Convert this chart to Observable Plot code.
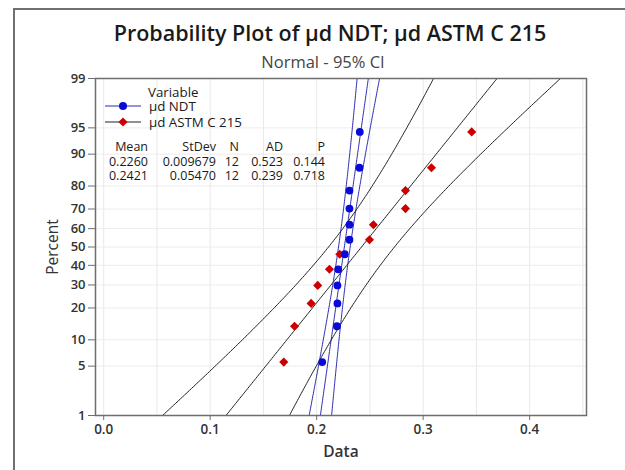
<!DOCTYPE html>
<html><head><meta charset="utf-8">
<script src="https://cdn.jsdelivr.net/npm/d3@7"></script>
<script src="https://cdn.jsdelivr.net/npm/@observablehq/plot@0.6"></script>
<style>
html,body{margin:0;padding:0;background:#fff;overflow:hidden;}
#wrap{position:relative;width:625px;height:470px;overflow:hidden;}
#border{position:absolute;left:13px;top:8px;width:700px;height:600px;border:2px solid #707070;box-sizing:border-box;pointer-events:none;}
#wrap svg{position:absolute;left:0;top:0;}
</style>
</head><body>
<div id="wrap"><div id="border"></div></div>
<script>
// ---- data ----
const tickPercents = [1, 5, 10, 20, 30, 40, 50, 60, 70, 80, 90, 95, 99];
const xTicks = [0.0, 0.1, 0.2, 0.3, 0.4];
const gridXValues = [0.0, 0.05, 0.1, 0.15, 0.2, 0.25, 0.3, 0.35, 0.4, 0.45];
const plotPercents = [5.6, 13.7, 21.8, 29.8, 37.9, 46.0, 54.0, 62.1, 70.2, 78.2, 86.3, 94.4];
const ndtValues = [0.2052, 0.2190, 0.2195, 0.2195, 0.2202, 0.2264, 0.2308, 0.2308, 0.2308, 0.2308, 0.2402, 0.2405];
const astmValues = [0.1691, 0.1792, 0.1948, 0.2010, 0.2120, 0.2217, 0.2496, 0.2533, 0.2834, 0.2834, 0.3078, 0.3456];
const seriesNames = ["µd NDT", "µd ASTM C 215"];
const means = [0.2260, 0.2421];
const stdevs = [0.009679, 0.05470];
const counts = [12, 12];
const adValues = [0.523, 0.239];
const pValues = [0.144, 0.718];
const meanLabels = ["0.2260", "0.2421"];
const stdevLabels = ["0.009679", "0.05470"];
const adLabels = ["0.523", "0.239"];
const pLabels = ["0.144", "0.718"];
const tableHeaders = ["Mean", "StDev", "N", "AD", "P"];

// ---- styles ----
const pointColors = ["#0a0ad8", "#cc0000"];
const lineColors = ["#2a2ab0", "#222222"];
const FONT = "'Open Sans', sans-serif";

// inverse normal CDF (Acklam)
function probit(p){
  const a=[-3.969683028665376e+01,2.209460984245205e+02,-2.759285104469687e+02,1.383577518672690e+02,-3.066479806614716e+01,2.506628277459239e+00];
  const b=[-5.447609879822406e+01,1.615858368580409e+02,-1.556989798598866e+02,6.680131188771972e+01,-1.328068155288572e+01];
  const c=[-7.784894002430293e-03,-3.223964580411365e-01,-2.400758277161838e+00,-2.549732539343734e+00,4.374664141464968e+00,2.938163982698783e+00];
  const d=[7.784695709041462e-03,3.224671290700398e-01,2.445134137142996e+00,3.754408661907416e+00];
  const pl=0.02425, ph=1-pl; let q,r;
  if(p<pl){q=Math.sqrt(-2*Math.log(p));return (((((c[0]*q+c[1])*q+c[2])*q+c[3])*q+c[4])*q+c[5])/((((d[0]*q+d[1])*q+d[2])*q+d[3])*q+1);}
  if(p<=ph){q=p-0.5;r=q*q;return (((((a[0]*r+a[1])*r+a[2])*r+a[3])*r+a[4])*r+a[5])*q/(((((b[0]*r+b[1])*r+b[2])*r+b[3])*r+b[4])*r+1);}
  q=Math.sqrt(-2*Math.log(1-p));return -(((((c[0]*q+c[1])*q+c[2])*q+c[3])*q+c[4])*q+c[5])/((((d[0]*q+d[1])*q+d[2])*q+d[3])*q+1);
}

const zTicks = tickPercents.map(p => probit(p / 100));
const zLo = probit(0.01), zHi = probit(0.99);

const points = [];
[ndtValues, astmValues].forEach((vals, s) => vals.forEach((v, i) =>
  points.push({series: seriesNames[s], s, x: v, z: probit(plotPercents[i] / 100)})));

// fitted normal line and 95% CI for percentiles from the stated Mean / StDev / N
const zq = 1.959964;
const zs = d3.range(0, 201).map(i => zLo + (zHi - zLo) * i / 200);
const curves = [];
seriesNames.forEach((name, s) => {
  const m = means[s], sd = stdevs[s], n = counts[s];
  for (const kind of ["lo", "fit", "hi"]) {
    for (const z of zs) {
      const fit = m + sd * z;
      const half = zq * sd * Math.sqrt(1 / n + z * z / (2 * n));
      const x = kind === "fit" ? fit : kind === "lo" ? fit - half : fit + half;
      curves.push({key: name + kind, s, x, z});
    }
  }
});

const W = 625, H = 470;
const svg = Plot.plot({
  width: W, height: H,
  marginLeft: 95, marginRight: 39, marginTop: 78, marginBottom: 55,
  style: {fontFamily: FONT, background: "transparent", overflow: "visible"},
  x: {domain: [-0.0077, 0.4534]},
  y: {domain: [zLo, zHi]},
  marks: [
    Plot.gridX(gridXValues, {stroke: "#e9e9e9", strokeOpacity: 1}),
    Plot.gridY(zTicks, {stroke: "#ececec", strokeOpacity: 1}),
    Plot.line(curves, {x: "x", y: "z", z: "key", stroke: d => lineColors[d.s], strokeWidth: 1, clip: true}),
    Plot.dot(points.filter(d => d.s === 1), {x: "x", y: "z", symbol: "diamond2", r: 4.1, fill: pointColors[1], stroke: "none"}),
    Plot.dot(points.filter(d => d.s === 0), {x: "x", y: "z", symbol: "circle", r: 3.9, fill: pointColors[0], stroke: "none"}),
    Plot.frame({stroke: "#6e6e6e", strokeWidth: 1.5}),
    Plot.axisX({ticks: xTicks, tickFormat: d => d.toFixed(1), tickSize: 5, tickPadding: 4, fontSize: 13.5, fontWeight: 600, fill: "#333", stroke: "#6e6e6e", label: null}),
    Plot.axisY({ticks: zTicks, tickFormat: z => String(tickPercents[zTicks.indexOf(z)]), tickSize: 7, tickPadding: 3, fontSize: 13, fontWeight: 600, fill: "#333", stroke: "#6e6e6e", label: null})
  ]
});
document.getElementById("wrap").appendChild(svg);

const g = d3.select(svg).append("g").attr("font-family", FONT).attr("fill", "#1a1a1a").attr("text-anchor", "start");
// titles
g.append("text").attr("x", 330).attr("y", 41).attr("text-anchor", "middle").attr("font-size", 21.5).attr("font-weight", 600).attr("fill", "#1a1a1a").text("Probability Plot of µd NDT; µd ASTM C 215");
g.append("text").attr("x", 323).attr("y", 68).attr("text-anchor", "middle").attr("font-size", 16.5).attr("fill", "#444").text("Normal - 95% CI");
// axis labels
g.append("text").attr("x", 341).attr("y", 457).attr("text-anchor", "middle").attr("font-size", 15.5).attr("font-weight", 600).attr("fill", "#333").text("Data");
g.append("text").attr("transform", "translate(58,247) rotate(-90)").attr("text-anchor", "middle").attr("font-size", 15.5).attr("fill", "#333").text("Percent");
// legend
g.append("text").attr("x", 148).attr("y", 97).attr("text-anchor", "start").attr("font-size", 13.3).text("Variable");
const legY = [106, 122];
seriesNames.forEach((name, s) => {
  g.append("line").attr("x1", 105).attr("x2", 141).attr("y1", legY[s]).attr("y2", legY[s]).attr("stroke", lineColors[s]).attr("stroke-width", 1);
  if (s === 0) g.append("circle").attr("cx", 123).attr("cy", legY[s]).attr("r", 4).attr("fill", pointColors[0]);
  else g.append("path").attr("d", d3.symbol(d3.symbolDiamond2, Math.PI * 4.1 * 4.1)()).attr("transform", `translate(123,${legY[s]})`).attr("fill", pointColors[1]);
  g.append("text").attr("x", 149).attr("y", legY[s] + 4.5).attr("text-anchor", "start").attr("font-size", 13.3).text(name);
});
// table
const colX = [148, 216, 239, 283, 325];
tableHeaders.forEach((h, i) => g.append("text").attr("x", colX[i]).attr("y", 151).attr("text-anchor", "end").attr("font-size", 12.5).text(h));
[0, 1].forEach(s => {
  const row = [meanLabels[s], stdevLabels[s], String(counts[s]), adLabels[s], pLabels[s]];
  row.forEach((t, i) => g.append("text").attr("x", colX[i]).attr("y", 165.5 + s * 14.5).attr("text-anchor", "end").attr("font-size", 12.5).text(t));
});
</script>
</body></html>
